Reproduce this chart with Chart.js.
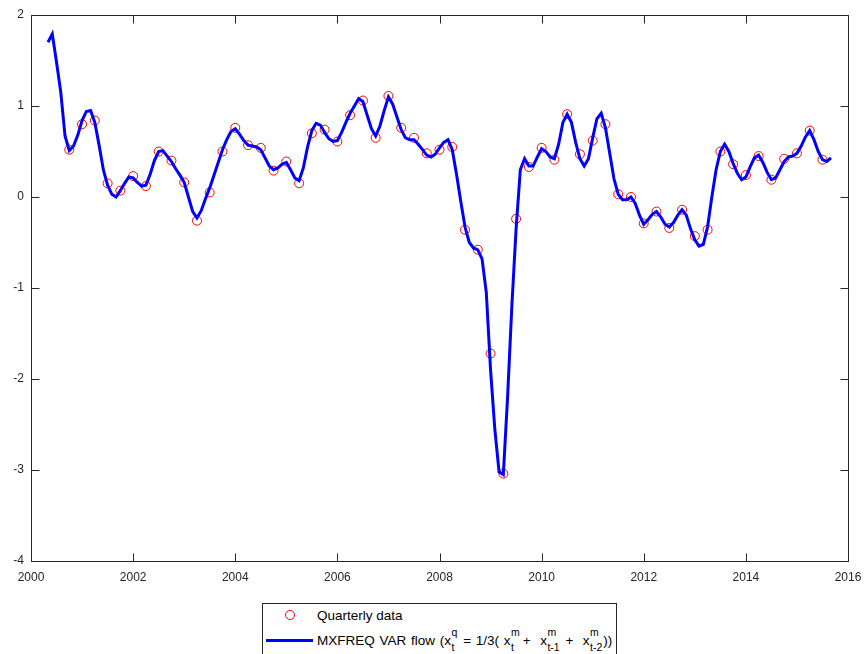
<!DOCTYPE html>
<html>
<head>
<meta charset="utf-8">
<script src="https://cdn.jsdelivr.net/npm/chart.js"></script>
<style>
  html, body { margin: 0; padding: 0; background: #fff; }
  #wrap { position: relative; width: 867px; height: 654px; overflow: hidden; }
  #legend {
    position: absolute; left: 262px; top: 603px; width: 355px; height: 54px;
    border: 1px solid #262626; background: #fff; box-sizing: border-box;
    font-family: "Liberation Sans", Arial, Helvetica, sans-serif; font-size: 13.5px; color: #000;
  }
  .row { position: absolute; left: 0; white-space: pre; }
  .row .txt { position: absolute; left: 54px; }
  .row .txt.f { word-spacing: 1px; }
  .mk-circle { position: absolute; left: 22px; width: 8px; height: 8px; border: 1px solid #ff0000; border-radius: 50%; }
  .mk-line { position: absolute; left: 3px; width: 47px; height: 3px; background: #0000ff; }
  .ss { position: relative; font-size: 10.5px; margin-left: 0.5px; margin-right: 1px; }
  .ss .dn { position: relative; top: 6px; }
  .ss .up { position: absolute; left: 0; top: -9px; }
  .ss.w .dn { padding-right: 3px; }
</style>
</head>
<body>
<div id="wrap">
  <canvas id="chart" width="867" height="654"></canvas>
  <div id="legend">
    <div class="row" style="top:0px;">
      <span class="mk-circle" style="top:6px;"></span>
      <span class="txt" style="top:4px;">Quarterly data</span>
    </div>
    <div class="row" style="top:26px;">
      <span class="mk-line" style="top:8.5px;"></span>
      <span class="txt f" style="top:3px;">MXFREQ VAR flow (x<span class="ss w"><span class="dn">t</span><span class="up">q</span></span> = 1/3( x<span class="ss w"><span class="dn">t</span><span class="up">m</span></span> +  x<span class="ss"><span class="dn">t-1</span><span class="up">m</span></span> +  x<span class="ss"><span class="dn">t-2</span><span class="up">m</span></span>))</span>
    </div>
  </div>
</div>
<script>
// monthly series starts April 2000, quarterly series starts September 2000
const monthStart = [2000, 4];
const quarterStart = [2000, 9];

const monthlyFlow = [
  1.70, 1.79, 1.48, 1.15, 0.67, 0.51, 0.56, 0.68, 0.84,
  0.94, 0.95, 0.82, 0.57, 0.30, 0.13, 0.03, 0.00, 0.07, 0.15, 0.22, 0.21,
  0.16, 0.12, 0.13, 0.25, 0.40, 0.50, 0.51, 0.45, 0.39, 0.31, 0.24, 0.16,
  0.00, -0.16, -0.23, -0.15, -0.02, 0.10, 0.24, 0.38, 0.52, 0.63, 0.72, 0.75,
  0.69, 0.62, 0.57, 0.56, 0.55, 0.52, 0.43, 0.34, 0.30, 0.32, 0.36, 0.38,
  0.30, 0.21, 0.18, 0.32, 0.55, 0.73, 0.81, 0.79, 0.71, 0.64, 0.61, 0.62,
  0.71, 0.82, 0.92, 1.00, 1.08, 1.05, 0.90, 0.75, 0.67, 0.78, 0.95, 1.10,
  1.02, 0.88, 0.74, 0.65, 0.63, 0.63, 0.58, 0.52, 0.46, 0.44, 0.47, 0.54,
  0.60, 0.63, 0.52, 0.25, -0.05, -0.33, -0.50, -0.56, -0.58, -0.68, -1.05, -1.90,
  -2.55, -3.02, -3.05, -2.20, -1.20, -0.35, 0.30, 0.42, 0.34, 0.34, 0.44, 0.53,
  0.50, 0.44, 0.42, 0.58, 0.82, 0.91, 0.82, 0.60, 0.42, 0.34, 0.42, 0.65,
  0.86, 0.92, 0.76, 0.48, 0.20, 0.03, -0.03, -0.03, 0.00, -0.07, -0.20, -0.30,
  -0.25, -0.19, -0.16, -0.22, -0.30, -0.33, -0.28, -0.20, -0.14, -0.20, -0.35, -0.47,
  -0.54, -0.52, -0.33, 0.00, 0.30, 0.50, 0.58, 0.50, 0.37, 0.26, 0.19, 0.22,
  0.33, 0.43, 0.46, 0.38, 0.27, 0.19, 0.21, 0.30, 0.39, 0.44, 0.45, 0.48,
  0.56, 0.66, 0.73, 0.63, 0.50, 0.41, 0.39, 0.43
];

const quarterlyData = [
  0.52, 0.80,
  0.84, 0.15, 0.07, 0.23,
  0.12, 0.50, 0.40, 0.16,
  -0.26, 0.05, 0.50, 0.76,
  0.57, 0.54, 0.29, 0.39,
  0.15, 0.70, 0.74, 0.61,
  0.90, 1.06, 0.65, 1.11,
  0.76, 0.65, 0.48, 0.52,
  0.55, -0.36, -0.58, -1.72,
  -3.04, -0.24, 0.33, 0.54,
  0.41, 0.91, 0.47, 0.62,
  0.80, 0.03, 0.00, -0.29,
  -0.16, -0.34, -0.14, -0.43,
  -0.36, 0.50, 0.36, 0.24,
  0.45, 0.19, 0.42, 0.48,
  0.73, 0.41
];

const xTicks = [2000, 2002, 2004, 2006, 2008, 2010, 2012, 2014, 2016];
const yTicks = [-4, -3, -2, -1, 0, 1, 2];

// end-of-month decimal year
function toPoints(start, stepMonths, values) {
  return values.map(function(v, i) {
    var m = start[1] + i * stepMonths;
    return { x: start[0] + m / 12, y: v };
  });
}

const fontFamily = '"Liberation Sans", Arial, Helvetica, sans-serif';
const axisColor = '#262626';

const framePlugin = {
  id: 'frame',
  afterDraw(chart) {
    const ctx = chart.ctx;
    const a = chart.chartArea;
    const xs = chart.scales.x;
    const ys = chart.scales.y;
    const len = 8;
    const l = Math.round(a.left) + 0.5, r = Math.round(a.right) + 0.5;
    const t = Math.round(a.top) + 0.5, b = Math.round(a.bottom) + 0.5;
    ctx.save();
    ctx.strokeStyle = axisColor;
    ctx.lineWidth = 1;
    ctx.setLineDash([]);
    ctx.beginPath();
    ctx.moveTo(l, t); ctx.lineTo(r, t); ctx.lineTo(r, b); ctx.lineTo(l, b); ctx.closePath();
    xTicks.forEach(function(v) {
      var px = Math.round(xs.getPixelForValue(v)) + 0.5;
      ctx.moveTo(px, b); ctx.lineTo(px, b - len);
      ctx.moveTo(px, t); ctx.lineTo(px, t + len);
    });
    yTicks.forEach(function(v) {
      var py = Math.round(ys.getPixelForValue(v)) + 0.5;
      ctx.moveTo(l, py); ctx.lineTo(l + len, py);
      ctx.moveTo(r, py); ctx.lineTo(r - len, py);
    });
    ctx.stroke();
    ctx.restore();
  }
};

const config = {
  type: 'scatter',
  data: {
    datasets: [
      {
        label: 'Quarterly data',
        data: toPoints(quarterStart, 3, quarterlyData),
        showLine: false,
        pointStyle: 'circle',
        pointRadius: 4.5,
        pointBorderWidth: 1,
        pointBorderColor: '#ff0000',
        pointBackgroundColor: 'rgba(0,0,0,0)',
        order: 2
      },
      {
        label: 'MXFREQ VAR flow',
        data: toPoints(monthStart, 1, monthlyFlow),
        showLine: true,
        borderColor: '#0000ff',
        borderWidth: 3,
        pointRadius: 0,
        tension: 0,
        order: 1
      }
    ]
  },
  options: {
    responsive: false,
    animation: false,
    layout: { padding: { left: 0, right: 19, top: 15, bottom: 0 } },
    plugins: {
      legend: { display: false },
      tooltip: { enabled: false }
    },
    scales: {
      x: {
        type: 'linear',
        min: 2000,
        max: 2016,
        afterBuildTicks: function(scale) {
          scale.ticks = xTicks.map(function(v) { return { value: v }; });
        },
        afterFit: function(scale) { scale.height = 93; },
        grid: { display: true, drawOnChartArea: false, drawTicks: true, tickLength: 9, color: 'rgba(0,0,0,0)' },
        border: { display: false },
        ticks: {
          padding: 0,
          color: axisColor,
          font: { family: fontFamily, size: 12 },
          maxRotation: 0,
          callback: function(v) { return String(v); }
        }
      },
      y: {
        min: -4,
        max: 2,
        afterBuildTicks: function(scale) {
          scale.ticks = yTicks.map(function(v) { return { value: v }; });
        },
        afterFit: function(scale) { scale.width = 31; },
        grid: { display: true, drawOnChartArea: false, drawTicks: true, tickLength: 7, color: 'rgba(0,0,0,0)' },
        border: { display: false },
        ticks: {
          padding: 0,
          color: axisColor,
          font: { family: fontFamily, size: 12 },
          callback: function(v) { return String(v); }
        }
      }
    }
  },
  plugins: [framePlugin]
};

new Chart(document.getElementById('chart').getContext('2d'), config);
</script>
</body>
</html>
